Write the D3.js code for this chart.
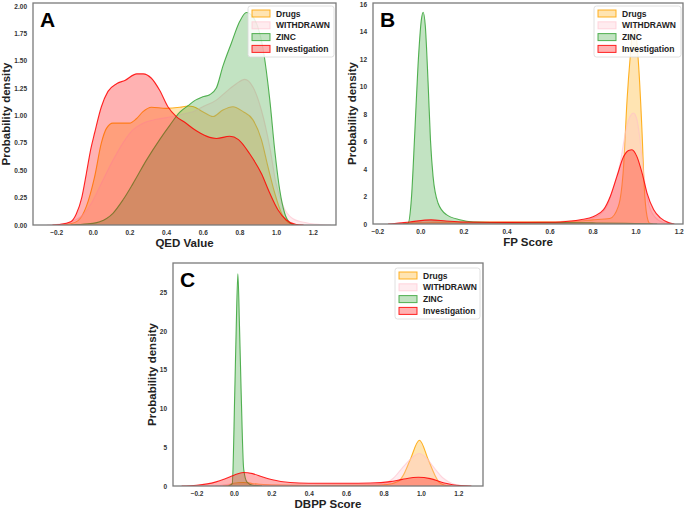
<!DOCTYPE html>
<html><head><meta charset="utf-8">
<script src="https://cdn.jsdelivr.net/npm/d3@7"></script>
<style>html,body{margin:0;padding:0;background:#fff;}svg{display:block;}</style>
</head><body>
<svg id="chart" width="685" height="511"></svg>
<script>
// ---------- DATA ----------
const seriesNames = ["Drugs", "WITHDRAWN", "ZINC", "Investigation"];
const seriesColors = ["#FFA500", "#FFC0CB", "#36a336", "#FF0000"];

// Panel A: QED Value densities  [x, density]
const qedDrugs = [[-0.17,0],[-0.14,0.005],[-0.08,0.04],[-0.035,0.17],[0.01,0.44],[0.047,0.75],[0.074,0.88],[0.11,0.93],[0.165,0.93],[0.2,0.93],[0.238,0.97],[0.274,1.035],[0.32,1.075],[0.4,1.065],[0.475,1.075],[0.52,1.087],[0.55,1.08],[0.6,1.035],[0.656,0.99],[0.71,1.05],[0.765,1.08],[0.82,1.035],[0.874,0.96],[0.92,0.78],[0.956,0.53],[0.993,0.29],[1.03,0.107],[1.075,0.015],[1.12,0]];
const qedWithdrawn = [[-0.25,0],[-0.2,0.005],[-0.12,0.03],[-0.05,0.1],[0.0,0.22],[0.038,0.35],[0.11,0.59],[0.165,0.75],[0.22,0.87],[0.274,0.93],[0.347,0.965],[0.438,0.99],[0.51,1.02],[0.547,1.035],[0.6,1.08],[0.674,1.14],[0.73,1.22],[0.783,1.29],[0.829,1.33],[0.874,1.26],[0.92,1.05],[0.966,0.71],[1.0,0.38],[1.04,0.17],[1.09,0.06],[1.165,0.02],[1.256,0.002],[1.3,0]];
const qedZinc = [[-0.12,0],[-0.09,0.003],[0.0,0.015],[0.038,0.03],[0.11,0.107],[0.165,0.23],[0.22,0.38],[0.292,0.59],[0.365,0.78],[0.42,0.91],[0.475,1.03],[0.52,1.09],[0.56,1.14],[0.6,1.17],[0.638,1.19],[0.674,1.25],[0.71,1.45],[0.756,1.66],[0.802,1.86],[0.838,1.94],[0.874,1.9],[0.93,1.6],[0.966,1.14],[0.993,0.68],[1.02,0.32],[1.047,0.107],[1.075,0.02],[1.1,0]];
const qedInvestigation = [[-0.22,0],[-0.18,0.005],[-0.12,0.03],[-0.09,0.1],[-0.06,0.25],[-0.035,0.47],[-0.01,0.7],[0.01,0.84],[0.047,1.08],[0.083,1.22],[0.13,1.29],[0.175,1.32],[0.24,1.38],[0.275,1.38],[0.32,1.34],[0.365,1.23],[0.41,1.08],[0.456,0.99],[0.5,0.94],[0.565,0.86],[0.638,0.8],[0.675,0.79],[0.747,0.81],[0.795,0.78],[0.856,0.65],[0.92,0.47],[0.966,0.29],[1.01,0.14],[1.056,0.046],[1.11,0.005],[1.15,0]];

// Panel B: FP Score densities
const fpDrugs = [[-0.1,0],[0.0,0.1],[0.1,0.12],[0.3,0.15],[0.5,0.15],[0.7,0.2],[0.8,0.3],[0.88,0.4],[0.92,1.3],[0.944,4.2],[0.96,9.0],[0.975,12.2],[0.99,14.5],[1.0,14.0],[1.014,11.5],[1.03,6.6],[1.04,2.7],[1.053,0.55],[1.065,0.05],[1.08,0]];
const fpWithdrawn = [[-0.12,0],[0.0,0.1],[0.1,0.15],[0.3,0.12],[0.5,0.12],[0.65,0.18],[0.743,0.25],[0.82,0.55],[0.867,1.3],[0.897,2.7],[0.929,4.5],[0.944,5.9],[0.96,7.2],[0.99,8.07],[1.006,7.6],[1.02,6.2],[1.037,3.7],[1.06,1.5],[1.09,0.5],[1.13,0.1],[1.17,0]];
const fpZinc = [[-0.08,0],[-0.057,0.05],[-0.042,1.77],[-0.026,6.6],[-0.011,11.5],[0.005,14.9],[0.013,15.4],[0.023,14.4],[0.036,10.25],[0.047,6.1],[0.059,3.46],[0.082,1.53],[0.121,0.68],[0.183,0.31],[0.245,0.15],[0.4,0.1],[0.6,0.1],[0.8,0.08],[0.95,0.05],[1.05,0.01],[1.1,0]];
const fpInvestigation = [[-0.15,0],[-0.12,0.03],[-0.05,0.15],[0.05,0.3],[0.12,0.22],[0.2,0.15],[0.4,0.12],[0.6,0.13],[0.65,0.15],[0.743,0.31],[0.805,0.55],[0.851,1.04],[0.882,2.0],[0.913,3.46],[0.944,4.9],[0.967,5.35],[0.983,5.4],[1.006,4.9],[1.03,3.7],[1.053,2.25],[1.084,1.04],[1.115,0.44],[1.153,0.1],[1.18,0]];

// Panel C: DBPP Score densities
const dbppDrugs = [[-0.06,0],[-0.03,0.1],[0.0,0.35],[0.05,0.45],[0.1,0.3],[0.2,0.12],[0.4,0.06],[0.7,0.08],[0.82,0.2],[0.88,0.6],[0.906,1.4],[0.942,3.35],[0.992,5.9],[1.04,3.35],[1.075,1.4],[1.1,0.4],[1.13,0.1],[1.16,0]];
const dbppWithdrawn = [[-0.1,0],[0.0,0.3],[0.05,0.35],[0.15,0.15],[0.4,0.1],[0.7,0.15],[0.799,0.3],[0.852,1.0],[0.906,2.5],[0.95,3.6],[0.99,4.2],[1.03,3.6],[1.066,2.5],[1.12,1.0],[1.17,0.3],[1.22,0.05],[1.25,0]];
const dbppZinc = [[-0.03,0],[-0.009,0.3],[0.004,11.7],[0.012,20.3],[0.021,27.4],[0.03,20.3],[0.039,11.7],[0.052,2.2],[0.07,0.5],[0.1,0.1],[0.15,0]];
const dbppInvestigation = [[-0.28,0],[-0.2,0.1],[-0.1,0.5],[-0.05,0.9],[0.0,1.4],[0.05,1.75],[0.1,1.6],[0.15,1.2],[0.2,0.85],[0.3,0.45],[0.4,0.36],[0.6,0.35],[0.728,0.38],[0.835,0.56],[0.9,0.85],[0.986,1.12],[1.05,0.95],[1.12,0.43],[1.21,0.05],[1.27,0]];

// Tick labels
const xTicks = [-0.2, 0.0, 0.2, 0.4, 0.6, 0.8, 1.0, 1.2];
const qedYTicks = [0, 0.25, 0.5, 0.75, 1.0, 1.25, 1.5, 1.75, 2.0];
const fpYTicks = [0, 2, 4, 6, 8, 10, 12, 14, 16];
const dbppYTicks = [0, 5, 10, 15, 20, 25];

// ---------- LAYOUT ----------
const panels = [
  {letter:"A", xlabel:"QED Value", series:[qedDrugs,qedWithdrawn,qedZinc,qedInvestigation],
   yTicks:qedYTicks, yFmt:d3.format(".2f"),
   box:{l:33,r:336,t:3,b:225}, xDom:[-0.326,1.327], yDom:[0,2.027],
   legend:{x:248,y:6,w:86,h:51}},
  {letter:"B", xlabel:"FP Score", series:[fpDrugs,fpWithdrawn,fpZinc,fpInvestigation],
   yTicks:fpYTicks, yFmt:d3.format("d"),
   box:{l:373,r:683,t:3,b:224}, xDom:[-0.22,1.22], yDom:[0,16.07],
   legend:{x:594,y:6,w:87,h:51}},
  {letter:"C", xlabel:"DBPP Score", series:[dbppDrugs,dbppWithdrawn,dbppZinc,dbppInvestigation],
   yTicks:dbppYTicks, yFmt:d3.format("d"),
   box:{l:173,r:483,t:263,b:486}, xDom:[-0.326,1.332], yDom:[0,28.78],
   legend:{x:395,y:268,w:85,h:51}}
];

const svg = d3.select("#chart");
const FONT = "'Liberation Sans', Arial, sans-serif";
const minusFmt = v => (v < 0 ? "\u2212" : "") + Math.abs(v).toFixed(1);

panels.forEach((p, pi) => {
  const B = p.box;
  const x = d3.scaleLinear().domain(p.xDom).range([B.l, B.r]);
  const y = d3.scaleLinear().domain(p.yDom).range([B.b, B.t]);
  const clipId = "clip" + pi;
  svg.append("clipPath").attr("id", clipId).append("rect")
    .attr("x", B.l).attr("y", B.t).attr("width", B.r - B.l).attr("height", B.b - B.t);
  const g = svg.append("g").attr("clip-path", `url(#${clipId})`);

  const area = d3.area().x(d => x(d[0])).y0(y(0)).y1(d => y(d[1])).curve(d3.curveMonotoneX);
  const line = d3.line().x(d => x(d[0])).y(d => y(d[1])).curve(d3.curveMonotoneX);

  p.series.forEach((s, i) => {
    g.append("path").datum(s).attr("d", area)
      .attr("fill", seriesColors[i]).attr("fill-opacity", 0.3).attr("stroke", "none");
    g.append("path").datum(s).attr("d", line)
      .attr("fill", "none").attr("stroke", seriesColors[i]).attr("stroke-width", 1.1)
      .attr("stroke-opacity", i === 1 ? 0.6 : 0.85);
  });

  // frame
  svg.append("rect").attr("x", B.l).attr("y", B.t).attr("width", B.r - B.l).attr("height", B.b - B.t)
    .attr("fill", "none").attr("stroke", "#7a7a7a").attr("stroke-width", 1.3);

  // x axis labels (no tick marks)
  const xAxis = d3.axisBottom(x).tickValues(xTicks).tickSize(0).tickPadding(5).tickFormat(minusFmt);
  const xa = svg.append("g").attr("transform", `translate(0,${B.b})`).call(xAxis);
  xa.select(".domain").remove();
  xa.selectAll("text").attr("font-family", FONT).attr("font-size", 6.5).attr("font-weight", "bold").attr("fill", "#333");

  const yAxis = d3.axisLeft(y).tickValues(p.yTicks).tickSize(0).tickPadding(6).tickFormat(p.yFmt);
  const ya = svg.append("g").attr("transform", `translate(${B.l},0)`).call(yAxis);
  ya.select(".domain").remove();
  ya.selectAll("text").attr("font-family", FONT).attr("font-size", 6.5).attr("font-weight", "bold").attr("fill", "#333");
  let maxW = 0;
  ya.selectAll("text").each(function(){ maxW = Math.max(maxW, this.getBBox().width); });

  // axis titles
  svg.append("text").attr("x", (B.l + B.r) / 2).attr("y", B.b + 22)
    .attr("text-anchor", "middle").attr("font-family", FONT).attr("font-size", 11.5)
    .attr("font-weight", "bold").attr("fill", "#222").text(p.xlabel);
  svg.append("text").attr("transform", `translate(${B.l - 6 - maxW - 3.5},${(B.t + B.b) / 2}) rotate(-90)`)
    .attr("text-anchor", "middle").attr("font-family", FONT).attr("font-size", 11.5)
    .attr("font-weight", "bold").attr("fill", "#222").text("Probability density");

  // panel letter
  svg.append("text").attr("x", B.l + 7).attr("y", B.t + 24)
    .attr("font-family", FONT).attr("font-size", 21).attr("font-weight", "bold").attr("fill", "#000").text(p.letter);

  // legend
  const L = p.legend;
  const lg = svg.append("g");
  lg.append("rect").attr("x", L.x).attr("y", L.y).attr("width", L.w).attr("height", L.h)
    .attr("rx", 2.5).attr("fill", "#fff").attr("fill-opacity", 0.85).attr("stroke", "#d8d8d8").attr("stroke-width", 0.8);
  seriesNames.forEach((name, i) => {
    const cy = L.y + 7.5 + i * 11.8;
    lg.append("rect").attr("x", L.x + 4).attr("y", cy - 3.5).attr("width", 18).attr("height", 7)
      .attr("fill", seriesColors[i]).attr("fill-opacity", 0.3)
      .attr("stroke", seriesColors[i]).attr("stroke-width", 1).attr("stroke-opacity", i === 1 ? 0.6 : 0.85);
    lg.append("text").attr("x", L.x + 28).attr("y", cy + 3)
      .attr("font-family", FONT).attr("font-size", 8.5).attr("font-weight", "bold").attr("fill", "#222").text(name);
  });
});
</script>
</body></html>
